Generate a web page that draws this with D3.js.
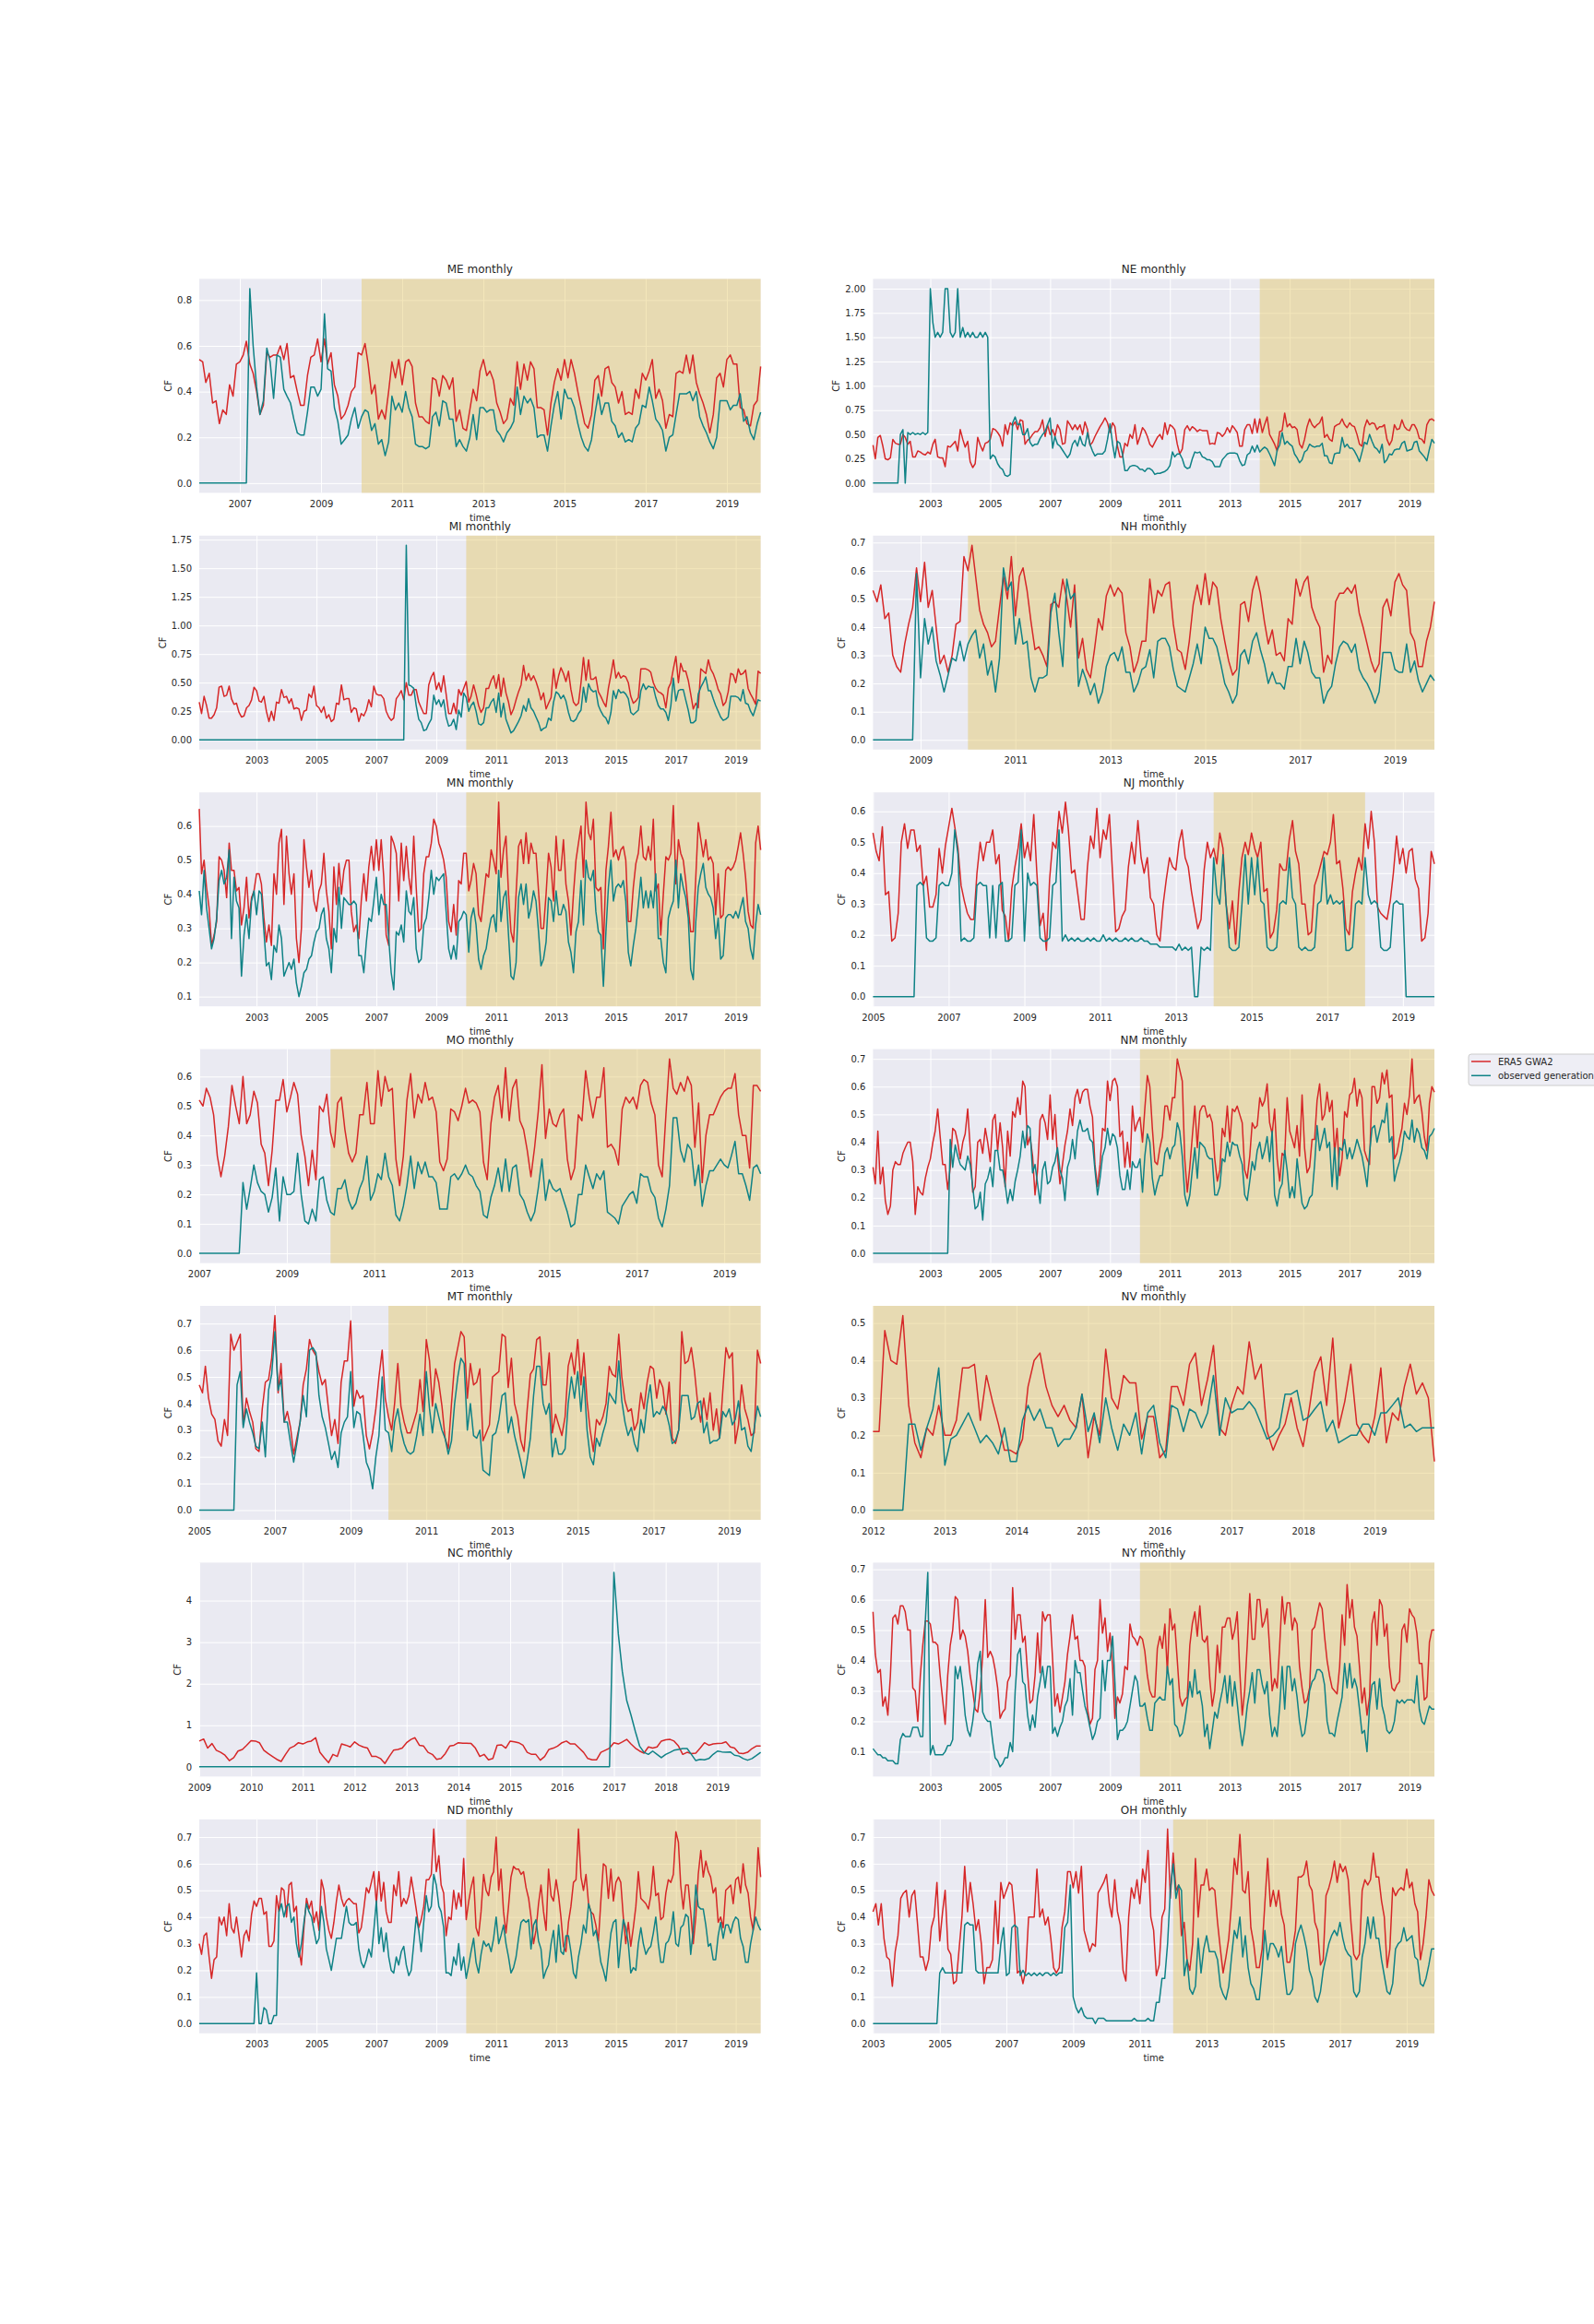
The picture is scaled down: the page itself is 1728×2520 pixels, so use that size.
<!DOCTYPE html>
<html><head><meta charset="utf-8">
<script src="https://cdn.jsdelivr.net/npm/d3@7"></script>
<style>body{margin:0;background:#fff}svg{display:block}</style>
</head><body>
<svg id="chart"></svg>
<script>
// ---- data (capacity factor x100), monthly, each series ends 2019-11 ----
const ME_era5 = [54,53,44,48,35,36,26,32,30,43,38,52, 53,56,62,52,48,40,30,34,57,55,56,56, 60,54,61,46,47,40,34,34,47,55,56,63, 53,63,52,57,43,38,28,30,34,40,42,57, 56,61,52,39,43,28,32,28,40,53,46,54, 43,53,54,51,35,29,29,27,26,46,45,38, 47,45,41,46,27,32,24,23,32,41,36,49, 54,47,49,45,35,31,26,28,37,34,53,41, 52,45,53,50,33,33,32,21,35,44,50,45, 54,46,54,48,40,33,26,24,30,45,47,38, 50,51,44,42,35,40,30,31,30,41,37,48, 45,49,54,37,41,36,24,30,29,48,49,48, 56,48,56,44,39,35,30,22,30,46,48,42, 54,56,52,52,33,32,26,25,34,36,51];
const ME_obs = [0,0,0,0,0,0,0,0,0,0,0,0, 0,0,0,85,60,42,30,36,59,53,37,56, 55,41,38,35,28,22,21,21,31,42,42,38, 41,74,50,49,33,27,17,19,21,28,33,24, 29,32,31,23,26,17,19,12,18,38,32,35, 31,40,33,29,17,16,16,15,16,29,31,25, 36,35,28,28,16,19,16,14,20,30,19,33, 33,31,32,32,23,21,18,22,24,27,42,30, 38,35,37,33,20,21,21,14,25,34,40,28, 41,37,37,33,26,20,16,14,19,30,39,30, 35,35,27,25,20,22,18,19,18,24,26,34, 33,42,36,28,26,23,14,20,21,30,39,39, 39,40,36,40,29,25,22,18,15,20,36,36, 36,32,34,34,39,27,29,22,19,26,31];

const NE_era5 = [39,25,47,49,38,25,24,26,45,41,40, 40,50,47,40,43,27,27,33,32,30,29,32, 30,40,45,27,26,26,17,38,37,40,43,33, 55,45,37,43,22,16,20,47,39,33,41,42, 45,56,55,52,48,38,60,50,62,59,63,55, 65,64,40,44,46,50,53,53,57,65,48,60, 50,55,48,60,55,40,41,64,60,55,60,55, 60,50,63,55,39,42,48,53,58,62,67,62, 52,62,58,38,27,27,41,38,50,46,60,40, 48,57,54,48,40,37,42,47,50,45,62,50, 60,58,55,40,30,35,55,59,54,58,56,53, 55,54,54,54,40,41,40,52,51,48,51,57, 52,59,56,52,38,38,55,60,60,51,66,52, 66,52,60,68,50,45,40,33,53,54,72,58, 61,57,58,55,40,36,45,58,66,60,57,60, 62,68,47,50,45,43,58,60,61,66,60,57, 62,59,58,50,40,38,57,65,60,62,61,55, 58,58,60,45,39,44,60,55,56,65,58,55, 54,60,60,55,46,45,41,60,65,66,64];
const NE_obs = [0,0,0,0,0,0,0,0,0,0,0, 50,55,0,52,50,52,50,51,50,52,50,52, 200,165,150,155,150,155,200,200,155,150,155,200, 150,160,150,155,150,155,150,150,155,150,155,150, 25,29,27,20,16,14,8,7,9,62,68,60, 61,50,50,56,42,38,40,40,46,50,53,60, 67,36,48,40,38,34,30,26,30,40,44,38, 48,40,38,52,40,33,28,30,30,30,33,45, 61,40,26,43,41,30,13,13,17,18,18,17, 14,14,12,15,15,13,9,10,10,11,12,14, 18,32,27,30,30,25,17,15,16,25,32,31, 32,27,26,24,24,22,17,17,17,24,27,30, 31,31,31,30,23,18,19,29,31,38,32,39, 32,35,37,35,30,24,18,34,39,52,40,43, 40,38,30,26,21,24,32,34,40,38,37,38, 38,41,28,28,21,20,30,31,31,47,37,40, 36,36,33,28,22,32,42,40,50,43,37,35, 31,40,21,24,30,29,34,35,35,41,43,33, 34,35,42,43,33,30,27,23,35,45,41];

const MI_era5 = [33,23,38,30,19,19,22,28,46,47,38, 39,47,36,31,32,24,20,21,28,30,35,46, 43,34,33,38,25,16,25,17,33,32,44,37, 38,32,36,27,28,27,17,25,26,40,37,47, 30,28,24,29,19,22,16,18,32,31,48,35, 36,36,24,28,27,16,23,21,26,35,29,47, 40,39,39,36,25,20,17,19,36,39,43,35, 50,39,39,44,44,33,28,23,23,48,55,59, 44,50,42,56,40,23,23,32,23,44,39,45, 51,33,38,48,40,30,24,28,45,45,52,56, 45,57,38,54,41,33,22,27,35,42,48,65, 52,58,52,56,51,44,35,41,27,32,37,62, 45,56,63,58,51,60,44,33,30,32,50,72, 52,70,53,53,55,42,38,33,29,45,57,70, 54,59,54,56,55,50,38,32,34,37,62,62, 62,61,59,50,45,42,41,39,28,45,50,62, 73,50,67,60,60,52,40,27,32,28,62,60, 58,70,62,58,52,44,40,30,33,42,58,57, 50,62,57,58,61,45,40,36,31,60,58];
const MI_obs = [0,0,0,0,0,0,0,0,0,0,0, 0,0,0,0,0,0,0,0,0,0,0,0, 0,0,0,0,0,0,0,0,0,0,0,0, 0,0,0,0,0,0,0,0,0,0,0,0, 0,0,0,0,0,0,0,0,0,0,0,0, 0,0,0,0,0,0,0,0,0,0,0,0, 0,0,0,0,0,0,0,0,0,0,0,0, 170,48,47,45,30,18,15,8,9,14,18,39, 31,35,29,35,20,12,13,18,9,26,20,41, 37,25,30,33,25,14,13,15,28,28,33,36, 24,41,20,32,18,12,6,8,12,16,21,30, 25,36,28,25,20,15,8,10,11,19,17,33, 42,40,36,39,34,24,17,16,18,23,26,46, 33,49,44,42,43,30,25,21,19,14,24,43, 36,44,41,42,40,36,24,22,24,26,43,49, 44,47,46,46,37,30,27,27,24,17,30,54, 34,43,44,44,35,26,15,15,17,40,46,50, 55,43,43,36,30,25,20,17,18,20,38,38, 38,37,34,44,32,31,25,21,28,35,34];

const NH_era5 = [53,49,55,43,45,30,26,24,34,41,47,61, 49,63,47,53,40,27,30,24,30,41,42,65, 60,69,58,46,41,38,33,35,47,58,50,65, 44,58,61,53,42,32,33,30,26,48,49,47, 57,50,40,55,29,36,25,22,32,43,39,51, 55,51,54,52,38,33,24,28,35,35,57,45, 53,51,55,56,41,32,31,25,35,48,55,48, 59,48,56,54,43,35,28,23,25,48,49,42, 53,58,52,42,34,39,30,31,28,43,41,57, 51,56,58,47,43,40,24,30,27,49,52,52, 54,52,55,45,40,34,28,24,27,47,50,44, 56,59,55,53,38,35,26,26,35,40,49];
const NH_obs = [0,0,0,0,0,0,0,0,0,0,0,59, 22,43,34,40,28,23,17,23,29,28,35,28, 34,37,39,29,34,23,28,17,29,61,53,56, 34,43,34,35,22,17,22,22,23,45,52,38, 26,57,50,52,19,25,21,16,20,13,17,26, 30,31,28,33,24,24,17,20,25,26,32,22, 35,36,36,33,25,19,18,17,22,27,34,27, 40,36,36,33,27,20,17,13,16,30,32,27, 35,38,32,27,20,24,20,20,18,26,26,36, 27,35,31,24,22,22,13,17,19,27,33,35, 34,31,34,25,22,20,17,13,17,31,31,31, 25,24,24,34,24,28,21,17,20,23,21];

const MN_era5 = [65,46,50,42,36,25,28,32,51,50,47, 39,55,47,47,41,42,31,36,45,33,39,41, 46,46,43,33,26,31,25,46,40,55,59,37, 57,46,40,46,27,20,30,56,48,42,47,38, 35,41,43,52,41,35,24,48,37,49,40,47, 50,50,35,29,31,27,38,46,38,48,54,47, 56,47,56,45,28,25,57,55,52,38,55,44, 54,45,40,57,42,29,30,46,51,51,55,62, 60,55,53,50,45,32,29,37,28,44,43,52, 52,41,44,49,46,34,32,39,46,45,53,50, 46,67,45,53,57,40,29,26,40,54,56,49, 58,49,55,52,52,41,30,30,40,52,48,38, 57,47,47,56,43,38,28,40,50,55,60,45, 67,58,56,62,42,41,42,24,47,54,64,51, 53,50,53,54,50,32,32,42,49,52,60,51, 50,54,50,62,41,43,28,40,51,50,52,66, 43,56,52,50,44,36,29,29,45,61,56,51, 56,50,51,49,34,46,33,34,47,48,47,48, 50,54,58,52,45,35,31,30,55,60,53];
const MN_obs = [41,34,47,36,30,24,27,33,44,47,43, 45,53,27,45,38,36,16,28,34,27,38,41, 34,41,40,29,19,20,15,25,23,31,27,16, 18,20,18,21,14,10,13,17,18,21,22,26, 29,30,34,36,27,24,17,30,26,42,30,39, 38,37,37,38,37,22,22,17,26,33,32,38, 45,34,40,37,37,27,17,12,29,28,31,26, 41,35,34,39,24,20,21,31,33,39,47,40, 45,44,45,46,35,24,21,25,21,32,33,35, 34,23,33,36,31,21,18,22,24,29,33,34, 29,47,32,39,41,28,16,15,20,39,43,37, 43,33,36,41,38,29,19,21,26,39,38,32, 41,34,34,37,35,26,23,17,29,32,44,31, 50,45,44,47,35,29,28,13,29,42,50,38, 42,43,42,44,38,23,19,25,30,37,45,36, 41,36,41,36,46,27,27,20,17,33,36,38, 50,36,46,42,39,33,18,15,32,42,46,49, 42,40,39,36,27,33,21,22,33,34,34,33, 35,33,36,39,32,30,24,21,31,37,34];

const NJ_era5 = [53,47,44,55,33,34,18,19,27,50,56,48, 54,54,47,49,36,39,29,29,33,48,40,49, 55,61,55,48,36,31,27,25,25,40,50,44, 50,50,54,43,46,28,26,18,35,42,48,56, 45,50,44,59,40,23,27,15,38,50,48,60, 53,63,54,40,41,33,25,25,42,52,48,61, 45,54,51,59,40,21,22,26,28,42,50,43, 57,45,40,45,32,30,20,18,30,38,45,42, 41,50,54,45,42,34,28,22,25,41,50,45, 48,43,53,48,30,22,31,17,34,45,50,46, 53,48,45,50,34,35,19,21,28,43,41,41, 51,57,47,43,30,30,20,21,36,39,43,47, 46,50,59,43,44,35,22,20,34,40,45,41, 56,48,60,50,29,27,26,25,31,40,52,43, 48,40,47,48,38,35,18,19,27,47,43];
const NJ_obs = [0,0,0,0,0,0,0,0,0,0,0,0, 0,0,36,37,36,19,18,18,19,36,37,36, 36,40,54,46,18,19,18,18,19,36,37,36, 36,19,36,19,36,37,18,18,19,36,37,54, 18,40,36,37,36,19,18,18,19,36,37,54, 18,20,18,19,18,19,18,18,19,18,19,18, 18,20,18,19,18,19,18,18,19,18,19,18, 18,19,18,18,17,17,17,16,16,16,16,16, 15,17,15,16,15,16,0,0,16,15,16,15, 45,33,30,46,30,16,15,15,16,30,46,30, 45,33,45,31,30,16,15,15,16,30,31,30, 45,32,30,16,15,16,15,15,16,30,31,45, 30,33,30,31,30,31,15,15,16,30,31,30, 45,33,30,31,30,16,15,15,16,30,31,30, 30,0,0,0,0,0,0,0,0,0,0];

const MO_era5 = [52,50,56,53,47,33,26,33,43,57,50,44, 60,44,47,55,51,37,34,23,35,52,52,59, 48,53,58,54,40,33,23,35,25,50,48,54, 41,36,51,53,42,34,31,34,47,47,58,44, 44,62,50,60,55,56,32,23,33,52,61,46, 54,51,58,52,53,48,31,28,32,49,48,45, 50,56,51,52,51,48,31,25,44,53,57,46, 63,45,56,59,45,42,35,26,36,48,64,39, 49,44,43,47,49,32,25,29,47,45,62,53, 46,53,53,63,36,37,35,30,49,53,51,53, 49,57,59,58,51,47,30,26,47,66,56,54, 58,55,60,57,36,51,24,40,47,47,50,53, 55,56,56,61,47,40,40,29,57,57,55];
const MO_obs = [0,0,0,0,0,0,0,0,0,0,0,0, 24,15,22,30,24,21,20,14,19,29,11,26, 20,20,21,34,20,11,10,15,11,25,26,18, 14,13,22,22,25,18,15,17,22,25,33,18, 21,27,25,34,26,23,13,11,16,23,33,22, 31,27,31,26,26,24,15,15,15,26,27,25, 27,30,27,26,23,21,13,12,19,23,29,21, 32,21,29,30,20,18,14,11,14,22,32,18, 25,22,21,22,18,14,9,10,20,20,30,26, 22,27,25,28,14,13,12,10,16,18,20,21, 17,27,26,26,21,19,12,9,15,23,46,46, 35,31,37,35,23,30,16,23,28,28,30,32, 30,29,33,38,27,27,23,18,29,30,27];

const NM_era5 = [31,25,44,25,31,19,14,17,30,33,32, 32,36,38,40,40,33,14,24,22,21,27,31, 34,40,44,52,42,32,32,23,31,45,44,40, 34,40,43,52,38,22,24,40,41,36,45,40, 33,48,50,37,47,38,24,44,35,51,49,56, 50,62,60,39,42,35,21,30,48,50,47,41, 57,41,50,35,25,32,39,44,52,46,56,59, 54,58,59,59,53,49,32,24,32,45,44,62, 55,62,63,60,42,44,31,40,31,53,44,47, 49,40,52,64,60,45,33,32,38,42,53,53, 48,56,56,70,66,62,34,22,31,42,53,38, 51,53,53,49,50,47,34,26,30,45,42,53, 40,52,51,53,50,47,30,27,35,47,45,46, 56,53,55,61,47,43,52,34,26,36,35,56, 44,41,38,46,35,57,38,29,31,41,41,55, 61,48,50,58,51,55,36,45,28,34,51,49, 57,58,63,53,59,56,37,34,32,60,60,54, 56,65,61,66,56,57,34,36,41,45,54,50, 57,70,54,56,57,51,42,37,54,60,58];
const NM_obs = [0,0,0,0,0,0,0,0,0,0,0, 0,0,0,0,0,0,0,0,0,0,0,0, 0,0,0,0,0,0,0,0,41,31,39,35, 32,31,30,35,32,24,16,17,22,12,25,27, 31,24,37,37,30,30,25,18,23,19,26,30, 35,44,38,46,45,29,32,25,18,30,33,25, 26,31,33,38,30,27,19,31,34,41,34,44, 48,44,44,45,41,40,30,21,27,35,38,45, 39,43,42,38,28,23,23,30,23,33,31,31, 34,22,35,43,40,27,21,25,28,28,36,38, 34,38,39,47,44,35,21,17,21,30,38,27, 40,39,38,35,34,34,21,21,24,34,33,40, 35,40,39,39,35,32,21,19,26,33,30,37, 40,34,37,42,33,44,21,17,23,25,37,30, 20,24,20,34,26,18,16,17,20,21,32,46, 37,41,45,38,40,24,38,23,38,37,41,34, 38,34,37,41,38,35,30,24,36,45,46,40, 44,48,47,54,40,42,26,30,33,37,44,42, 41,48,40,45,43,38,37,34,42,43,45];

const MT_era5 = [47,44,54,42,36,34,26,24,34,28,66,60, 63,66,32,42,37,33,23,22,38,48,49,57, 73,44,55,33,37,31,21,27,33,47,53,64, 60,58,52,47,49,38,28,34,25,48,56,56, 71,39,45,42,43,28,23,29,38,50,60,42, 35,30,40,55,39,33,29,29,33,37,49,37, 64,56,39,53,48,39,27,23,40,55,61,67, 65,42,55,47,48,53,26,29,32,50,51,52, 66,65,46,57,40,35,26,22,38,51,53,64, 65,47,47,59,29,36,32,28,35,54,59,51, 64,47,59,41,30,22,34,32,35,40,54,51, 50,66,50,41,37,38,30,33,44,38,48,54, 53,42,49,46,36,48,27,25,30,67,55,56, 61,52,41,33,42,34,44,30,38,27,45,61, 57,59,25,32,47,38,34,28,29,60,55];
const MT_obs = [0,0,0,0,0,0,0,0,0,0,0,0, 47,52,31,38,33,29,24,23,33,20,45,51, 67,45,49,33,33,25,18,25,33,43,35,60, 61,59,43,35,31,25,19,22,16,29,33,35, 52,31,37,36,28,18,15,8,20,28,50,30, 29,22,33,38,30,25,22,21,22,28,36,28, 52,38,29,40,35,30,27,21,26,40,50,57, 55,30,40,28,27,30,15,14,13,28,29,34, 43,44,29,35,28,23,18,12,19,27,43,54, 54,40,36,40,20,27,21,21,23,40,50,42, 52,37,50,30,20,17,27,24,29,33,44,42, 40,56,41,33,28,31,25,22,34,29,40,47, 35,37,36,39,37,32,25,26,30,43,43,43, 34,35,40,41,29,33,25,26,26,27,37,35, 38,32,34,41,30,31,24,22,31,39,35];

const NV_era5 = [21,21,48,40,39,52,28,18,14,22,20,28, 20,20,24,38,38,39,24,36,29,23,16,16, 15,19,33,40,42,33,28,25,28,24,22,31, 14,25,20,43,30,27,36,34,34,19,25,25, 14,16,33,33,28,39,42,28,35,44,22,20, 28,33,31,45,35,39,21,16,20,23,30,22, 17,27,37,41,28,46,22,29,39,23,20,18, 25,38,18,26,24,33,39,31,34,30,13];
const NV_obs = [0,0,0,0,0,0,23,23,16,22,27,38, 12,19,20,23,26,22,18,20,18,15,22,13, 13,24,28,24,27,22,22,17,19,19,22,31, 21,26,18,30,22,16,23,20,26,15,26,28, 18,14,28,27,21,27,26,22,26,36,20,30, 26,27,27,29,27,23,19,20,22,31,31,32, 24,25,27,29,21,24,18,19,20,20,23,23, 20,26,26,28,30,22,23,21,22,22,22];

const NC_era5 = [62,67,45,56,40,35,28,15,22,38,42,52, 63,62,58,40,32,25,18,13,30,45,50,58, 55,60,62,70,35,22,10,30,25,55,52,48, 60,52,48,45,25,25,20,8,25,40,42,45, 58,66,70,52,50,35,30,18,20,32,50,52, 58,57,57,56,45,25,30,17,20,52,53,45, 62,60,58,52,35,30,30,16,25,42,45,50, 58,62,55,55,45,35,20,17,17,35,40,45, 58,55,60,66,55,45,38,33,48,45,48,62, 65,66,62,50,30,35,32,33,45,58,52,55, 56,57,60,48,45,33,32,35,44,50,50];
const NC_obs = [0,0,0,0,0,0,0,0,0,0,0,0, 0,0,0,0,0,0,0,0,0,0,0,0, 0,0,0,0,0,0,0,0,0,0,0,0, 0,0,0,0,0,0,0,0,0,0,0,0, 0,0,0,0,0,0,0,0,0,0,0,0, 0,0,0,0,0,0,0,0,0,0,0,0, 0,0,0,0,0,0,0,0,0,0,0,0, 0,0,0,0,0,0,0,0,0,0,0,0, 468,320,230,160,125,85,50,35,30,38,30,22, 30,35,40,42,44,44,30,15,18,17,20,30, 38,36,35,36,28,26,20,16,20,27,35];

const NY_era5 = [56,42,36,37,25,28,22,35,54,55,52, 58,58,56,50,50,31,30,20,35,45,53,53, 52,46,46,45,35,27,19,35,45,50,61,60, 47,50,48,43,35,30,24,23,30,42,60,41, 43,41,37,31,21,23,24,33,35,64,47,55, 55,46,48,36,26,27,35,49,36,56,53,55, 55,40,25,29,23,28,33,42,48,55,47,48, 40,40,38,24,19,21,37,40,60,49,54,43, 49,38,21,28,26,29,38,37,52,48,47,45, 48,47,43,35,30,28,28,44,48,44,52,36, 57,50,52,40,28,25,27,28,45,52,56,48, 58,47,46,48,34,25,30,45,36,51,51,54, 54,47,50,56,37,22,30,45,62,47,47,60, 60,51,53,57,44,30,34,31,45,61,52,59, 59,50,54,52,38,31,26,27,31,50,51,55, 59,57,48,40,35,31,30,29,38,55,45,65, 54,60,51,48,38,26,31,22,28,52,56,45, 60,58,48,52,38,31,30,32,33,50,52,46, 57,55,54,49,39,39,27,28,46,50,50];
const NY_obs = [11,10,9,9,8,8,7,7,7,6,6, 14,16,15,15,15,18,18,18,15,15,53,69, 9,12,9,9,9,9,10,12,12,14,38,34, 38,31,22,17,15,20,27,39,43,23,21,20, 20,13,8,7,5,6,8,8,13,10,30,42, 44,33,32,22,17,22,18,28,33,38,31,38, 38,16,18,15,18,20,25,27,34,22,40,36, 36,30,25,22,18,14,16,20,21,40,30,40, 40,48,33,14,17,17,18,20,25,30,35,33, 25,25,26,21,17,17,26,27,28,27,27,38, 32,34,19,18,15,16,20,26,33,28,37,29, 30,25,15,19,11,17,23,21,26,30,35,26, 35,25,33,26,18,12,17,25,30,36,26,37, 37,32,29,33,22,15,18,15,25,38,24,38, 38,30,34,28,20,15,16,22,30,33,34,37, 37,36,32,20,16,16,15,20,24,28,39,31, 39,31,34,31,24,16,17,10,25,32,33,24, 34,25,22,17,16,17,20,27,26,27,26,27, 27,27,26,35,24,20,19,22,25,24,24];

const ND_era5 = [30,26,33,34,25,17,24,25,40,37,40, 33,45,36,34,40,33,25,33,35,31,41,46, 44,47,47,41,42,29,29,31,48,42,51,50, 40,52,53,42,44,28,22,36,47,43,46,38, 42,35,54,50,40,35,32,38,46,52,47,44, 46,47,46,45,45,34,36,43,51,49,53,57, 45,57,46,53,42,38,38,52,48,57,44,47, 45,48,55,49,43,36,39,44,54,54,56,73, 57,63,52,49,33,40,39,50,43,49,44,62, 39,46,51,55,36,33,42,56,50,48,55,57, 70,50,58,42,34,44,55,59,58,58,56,57, 51,47,40,30,35,45,52,42,35,58,48,46, 54,48,40,29,27,38,44,53,54,73,55,50, 56,45,42,41,37,31,46,60,59,47,58,46, 53,55,53,40,30,38,29,36,44,57,47,46, 45,43,48,59,48,49,39,40,49,54,53,56, 72,68,52,43,52,52,42,30,40,56,65,55, 61,57,55,49,51,38,40,36,50,51,52,45, 54,55,49,60,52,49,40,35,45,66,55];
const ND_obs = [0,0,0,0,0,0,0,0,0,0,0, 0,0,0,0,0,0,0,0,0,0,0,0, 19,0,0,6,5,0,0,3,3,42,45,40, 44,45,38,40,30,25,30,38,45,42,40,35, 30,32,44,38,28,24,20,26,32,32,32,38, 44,38,37,37,38,28,23,21,24,28,25,35, 46,30,36,27,34,25,20,19,25,22,27,29, 22,18,20,30,40,35,27,38,48,42,44,56, 52,44,42,36,19,19,18,25,22,30,20,25, 17,22,27,32,23,19,26,31,29,30,27,32, 40,30,33,37,30,25,19,21,25,32,38,39, 38,39,28,37,39,31,28,17,20,22,30,35, 23,37,27,26,33,33,27,19,17,25,30,37, 34,45,42,33,35,30,23,20,16,25,34,38, 39,21,30,39,36,30,19,21,20,30,36,30, 26,28,29,34,40,30,23,23,30,31,34,42, 30,29,36,37,41,40,26,35,52,44,43,43, 37,29,30,24,24,33,38,32,37,37,34,38, 40,39,32,29,23,23,30,35,40,37,35];

const OH_era5 = [42,45,37,45,32,25,24,14,27,33,47,49, 50,40,48,50,38,25,25,20,24,36,40,53, 31,42,50,28,26,15,16,28,40,59,42,53, 45,35,39,30,15,21,21,24,46,30,53,47, 50,53,52,40,19,20,15,20,40,40,40,58, 40,43,37,40,32,21,19,21,36,42,57,57, 51,57,49,59,35,31,27,30,29,49,51,53, 56,45,40,54,42,37,20,16,40,51,47,54, 45,58,53,65,40,35,18,22,40,43,73,47, 64,50,52,33,38,24,20,30,62,40,52,52, 58,50,51,50,38,28,19,25,32,45,62,56, 71,50,49,57,36,30,21,21,28,45,62,44, 50,44,50,41,37,23,23,28,35,55,55,56, 61,52,50,38,35,22,24,48,51,55,61,53, 60,57,59,54,38,26,24,26,50,54,52,54, 64,55,55,46,40,21,28,51,48,50,51,50, 58,51,53,45,42,24,30,40,54,50,48];
const OH_obs = [0,0,0,0,0,0,0,0,0,0,0,0, 0,0,0,0,0,0,0,0,0,0,0,0, 19,21,19,19,19,19,19,19,19,37,38,37, 37,20,19,19,19,19,19,19,19,19,30,36, 18,19,36,37,36,18,20,18,19,18,19,18, 19,18,19,19,18,19,18,19,19,36,38,52, 10,6,4,6,3,2,2,2,0,2,2,2, 1,1,1,1,1,1,1,1,1,1,2,1, 1,1,1,2,1,1,8,8,17,17,30,50, 60,47,52,50,18,24,13,11,14,32,19,28, 33,27,27,27,24,14,11,9,14,25,35,32, 40,25,33,21,15,13,9,9,20,35,24,30, 30,28,25,29,20,11,11,13,30,34,37,33, 28,20,17,10,8,12,20,25,30,33,35,33, 38,32,28,26,25,12,10,12,25,30,40,32, 40,32,32,24,18,12,11,15,28,30,31,36, 31,32,33,25,24,15,14,17,22,28,28];

// ---- panel descriptors ----
const panelNames = ["ME","NE","MI","NH","MN","NJ","MO","NM","MT","NV","NC","NY","ND","OH"];
const panelStart = ["2006-01","2001-02","2001-02","2008-01","2001-02","2005-01","2007-01","2001-02","2005-01","2012-01","2009-01","2001-02","2001-02","2003-01"];
const shadeStart = ["2010-01","2014-01","2010-01","2010-01","2010-01","2014-01","2010-01","2010-01","2010-01","2012-01",null,"2010-01","2010-01","2012-01"];
const shadeEnd   = [null,null,null,null,null,"2018-01",null,null,null,null,null,null,null,null];
const yTicks = [
  [0,0.2,0.4,0.6,0.8],
  [0,0.25,0.5,0.75,1,1.25,1.5,1.75,2],
  [0,0.25,0.5,0.75,1,1.25,1.5,1.75],
  [0,0.1,0.2,0.3,0.4,0.5,0.6,0.7],
  [0.1,0.2,0.3,0.4,0.5,0.6],
  [0,0.1,0.2,0.3,0.4,0.5,0.6],
  [0,0.1,0.2,0.3,0.4,0.5,0.6],
  [0,0.1,0.2,0.3,0.4,0.5,0.6,0.7],
  [0,0.1,0.2,0.3,0.4,0.5,0.6,0.7],
  [0,0.1,0.2,0.3,0.4,0.5],
  [0,1,2,3,4],
  [0.1,0.2,0.3,0.4,0.5,0.6,0.7],
  [0,0.1,0.2,0.3,0.4,0.5,0.6,0.7],
  [0,0.1,0.2,0.3,0.4,0.5,0.6,0.7]
];
const yDecimals = [1,2,2,1,1,1,1,1,1,1,0,1,1,1];
const xTickFirst = [2007,2003,2003,2009,2003,2005,2007,2003,2005,2012,2009,2003,2003,2003];
const xTickStep  = [2,2,2,2,2,2,2,2,2,1,1,2,2,2];
const era5Series = [ME_era5,NE_era5,MI_era5,NH_era5,MN_era5,NJ_era5,MO_era5,NM_era5,MT_era5,NV_era5,NC_era5,NY_era5,ND_era5,OH_era5];
const obsSeries  = [ME_obs,NE_obs,MI_obs,NH_obs,MN_obs,NJ_obs,MO_obs,NM_obs,MT_obs,NV_obs,NC_obs,NY_obs,ND_obs,OH_obs];
const legendLabels = ["ERA5 GWA2","observed generation"];

// ---- styling / layout ----
const W = 1728, H = 2520;
const colX = [216, 946.4], axW = 608.6, top0 = 302.4, pitch = 278.4, axH = 232;
const RED = "#d62728", TEAL = "#0f8286", TXT = "#262626";
const FONT = "DejaVu Sans, sans-serif";

const svg = d3.select("#chart").attr("width", W).attr("height", H)
  .attr("font-family", FONT);
svg.append("rect").attr("width", W).attr("height", H).attr("fill", "#ffffff");

const toDate = s => { const [y, m] = s.split("-").map(Number); return new Date(Date.UTC(y, m - 1, 1)); };

panelNames.forEach((name, idx) => {
  const col = idx % 2, row = Math.floor(idx / 2);
  const g = svg.append("g").attr("transform", `translate(${colX[col]},${top0 + row * pitch})`);
  const era5 = era5Series[idx].map(v => v / 100);
  const obs = obsSeries[idx].map(v => v / 100);
  const [sy, sm] = panelStart[idx].split("-").map(Number);
  const expected = (2019 - sy) * 12 + (11 - sm) + 1;
  if (era5.length !== expected || obs.length !== expected)
    throw new Error(name + " length era5=" + era5.length + " obs=" + obs.length + " expected=" + expected);
  const dates = d3.range(era5.length).map(i => new Date(Date.UTC(sy, sm - 1 + i, 1)));

  const x = d3.scaleUtc().domain([dates[0], dates[dates.length - 1]]).range([0, axW]);
  const all = era5.concat(obs);
  const lo = d3.min(all), hi = d3.max(all), pad = (hi - lo) * 0.05;
  const y = d3.scaleLinear().domain([lo - pad, hi + pad]).range([axH, 0]);

  g.append("rect").attr("width", axW).attr("height", axH).attr("fill", "#eaeaf2");

  const xt = d3.range(xTickFirst[idx], 2020, xTickStep[idx]).map(yr => new Date(Date.UTC(yr, 0, 1)));
  const xAxis = g.append("g").attr("transform", `translate(0,${axH})`)
    .call(d3.axisBottom(x).tickValues(xt).tickFormat(d3.utcFormat("%Y")).tickSize(-axH).tickPadding(8.5));
  xAxis.select(".domain").remove();
  xAxis.selectAll("line").attr("stroke", "#ffffff").attr("stroke-width", 1);
  xAxis.selectAll("text").attr("fill", TXT).attr("font-size", 10).attr("font-family", FONT);

  const fmt = d3.format("." + yDecimals[idx] + "f");
  const yAxis = g.append("g")
    .call(d3.axisLeft(y).tickValues(yTicks[idx]).tickFormat(fmt).tickSize(-axW).tickPadding(8));
  yAxis.select(".domain").remove();
  yAxis.selectAll("line").attr("stroke", "#ffffff").attr("stroke-width", 1);
  yAxis.selectAll("text").attr("fill", TXT).attr("font-size", 10).attr("font-family", FONT);

  if (shadeStart[idx]) {
    const s0 = Math.max(0, x(toDate(shadeStart[idx])));
    const s1 = shadeEnd[idx] ? Math.min(axW, x(toDate(shadeEnd[idx]))) : axW;
    g.append("rect").attr("x", s0).attr("y", 0).attr("width", s1 - s0).attr("height", axH)
      .attr("fill", "#e3c35a").attr("fill-opacity", 0.42);
  }

  const line = d3.line().x((d, i) => x(dates[i])).y(d => y(d));
  g.append("path").datum(era5).attr("d", line).attr("fill", "none")
    .attr("stroke", RED).attr("stroke-width", 1.5).attr("stroke-linejoin", "round");
  g.append("path").datum(obs).attr("d", line).attr("fill", "none")
    .attr("stroke", TEAL).attr("stroke-width", 1.5).attr("stroke-linejoin", "round");

  g.append("text").attr("x", axW / 2).attr("y", -6).attr("text-anchor", "middle")
    .attr("font-size", 12).attr("fill", TXT).text(name + " monthly");
  g.append("text").attr("x", axW / 2).attr("y", axH + 30.5).attr("text-anchor", "middle")
    .attr("font-size", 10).attr("fill", TXT).text("time");

  let minX = 0;
  yAxis.selectAll("text").each(function () { const b = this.getBBox(); minX = Math.min(minX, b.x); });
  g.append("text").attr("transform", `translate(${minX - 6},${axH / 2}) rotate(-90)`)
    .attr("text-anchor", "middle").attr("font-size", 10).attr("fill", TXT).text("CF");
});

// ---- legend (to the right of the NM panel) ----
const lg = svg.append("g").attr("transform", "translate(1592,1143)");
lg.append("rect").attr("width", 150).attr("height", 34).attr("rx", 3)
  .attr("fill", "#eaeaf2").attr("fill-opacity", 0.8).attr("stroke", "#cccccc").attr("stroke-width", 1);
[RED, TEAL].forEach((c, i) => {
  const yy = 8 + i * 15.3;
  lg.append("line").attr("x1", 3).attr("x2", 24).attr("y1", yy).attr("y2", yy)
    .attr("stroke", c).attr("stroke-width", 1.5);
  lg.append("text").attr("x", 32).attr("y", yy + 3.6).attr("font-size", 10).attr("fill", TXT).text(legendLabels[i]);
});
</script>
</body></html>
